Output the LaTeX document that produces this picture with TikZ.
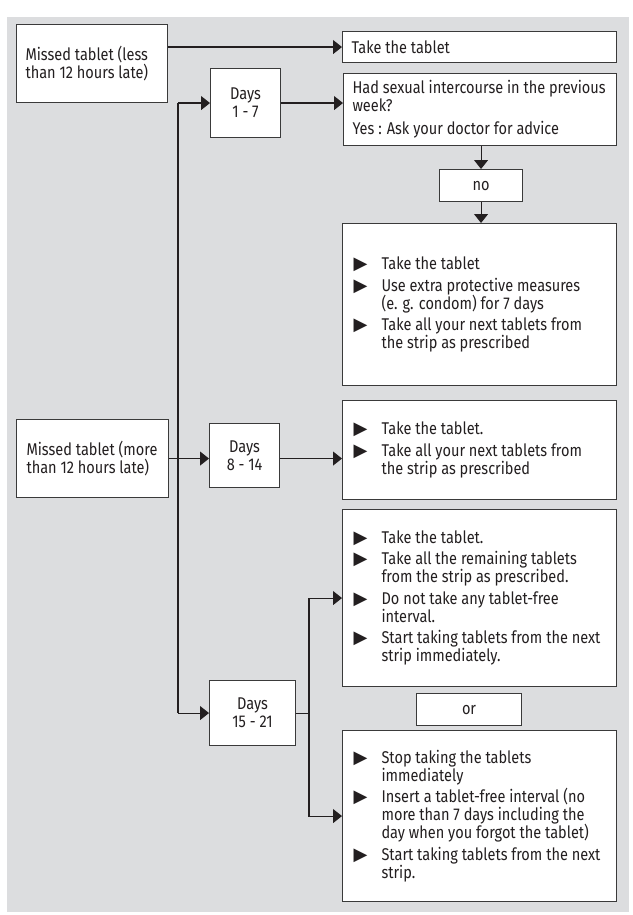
\documentclass[tikz,border=0pt]{standalone}
\usepackage{fontspec}
\setmainfont{Fira Sans}[FakeStretch=0.855]
\newfontfamily\symfont{DejaVu Sans}
\usetikzlibrary{arrows.meta}
\definecolor{bggray}{HTML}{DCDDDF}
\definecolor{ink}{HTML}{231F20}
\definecolor{edge}{HTML}{3A3A3A}
\newcommand\tri{\raisebox{0pt}[0pt][0pt]{\symfont\fontsize{18}{18}\selectfont ▶}}
\newcommand\bitem[1]{\noindent\hangindent=28pt\hangafter=1\makebox[28pt][l]{\tri}#1\par}
\begin{document}
\begin{tikzpicture}[x=1pt,y=-1pt,
  every node/.style={font=\fontsize{17}{18}\selectfont, text=ink},
  box/.style={draw=edge, line width=1.1pt, fill=white, rectangle, anchor=north west, inner sep=0pt},
  lbox/.style={box, align=flush left, inner xsep=6pt, text width=262pt},
  cbox/.style={box, align=center},
  line/.style={draw=ink, line width=1.1pt},
  arr/.style={line, -{Triangle[length=9pt,width=14pt]}}]
\useasboundingbox (0,0) rectangle (632,915);
\fill[bggray] (7,17) rectangle (629,912);
% left boxes
\node[box, align=flush left, inner xsep=6pt, text width=139pt, minimum height=78pt] (less) at (16,24) {\leftskip=3pt Missed tablet (less\\than 12 hours late)\par};
\node[box, align=flush left, inner xsep=6pt, text width=140pt, minimum height=78pt] (more) at (16,419) {\leftskip=4pt Missed tablet (more\\than 12 hours late)\par};
% day boxes
\node[cbox, minimum width=70pt, minimum height=69pt] (d17) at (210,68) {Days\\1 - 7};
\node[cbox, minimum width=70pt, minimum height=64pt] (d814) at (209,423) {Days\\8 - 14};
\node[cbox, minimum width=86pt, minimum height=65pt] (d1521) at (209,680) {Days\\15 - 21};
% right boxes
\node[box, align=flush left, inner xsep=4pt, text width=266pt, minimum height=31pt] (take) at (342,31) {\leftskip=5pt Take the tablet\par};
\node[box, align=flush left, inner xsep=4pt, text width=265pt, minimum height=72pt] (sex) at (343,73) {\setlength{\parskip}{5pt}\leftskip=5pt\noindent Had sexual intercourse in the previous\newline week?\par\noindent Yes : Ask your doctor for advice\par};
\node[cbox, minimum width=83pt, minimum height=32pt] (no) at (439,169) {no};
\node[lbox, minimum height=162pt] (A) at (342,223) {\setlength{\parskip}{3.5pt}\leftskip=5pt%
\bitem{Take the tablet}%
\bitem{Use extra protective measures\newline (e. g. condom) for 7 days}%
\bitem{Take all your next tablets from\newline the strip as prescribed}};
\node[lbox, minimum height=99pt] (B) at (342,400) {\setlength{\parskip}{3.5pt}\leftskip=5pt%
\bitem{Take the tablet.}%
\bitem{Take all your next tablets from\newline the strip as prescribed}};
\node[lbox, minimum height=177pt] (C) at (342,509) {\setlength{\parskip}{3.5pt}\leftskip=5pt%
\bitem{Take the tablet.}%
\bitem{Take all the remaining tablets\newline from the strip as prescribed.}%
\bitem{Do not take any tablet-free\newline interval.}%
\bitem{Start taking tablets from the next\newline strip immediately.}};
\node[cbox, minimum width=105pt, minimum height=32pt] (or) at (416,693) {or};
\node[lbox, minimum height=171pt] (D) at (342,730) {\setlength{\parskip}{3.5pt}\leftskip=5pt%
\bitem{Stop taking the tablets\newline immediately}%
\bitem{Insert a tablet-free interval (no\newline more than 7 days including the\newline day when you forgot the tablet)}%
\bitem{Start taking tablets from the next\newline strip.}};
% helper coordinates
\coordinate (tx) at (178,0);
\coordinate (sx) at (309,0);
% connectors
\draw[arr] (less.east |- take.west) -- (take.west);
\draw[line] (d17.west -| tx) -- (d1521.west -| tx);
\draw[arr] (d17.west -| tx) -- (d17.west);
\draw[arr] (d1521.west -| tx) -- (d1521.west);
\draw[arr] (more.east) -- (more.east -| d814.west);
\draw[arr] (d814.east |- more.east) -- (more.east -| B.west);
\draw[arr] (d17.east) -- (d17.east -| sex.west);
\draw[arr] (no.north |- sex.south) -- (no.north);
\draw[arr] (no.south) -- (no.south |- A.north);
\draw[line] (d1521.east) -- (d1521.east -| sx);
\draw[arr] (d1521.east -| sx) |- (C.west);
\draw[arr] (d1521.east -| sx) |- (D.west);
\end{tikzpicture}
\end{document}
